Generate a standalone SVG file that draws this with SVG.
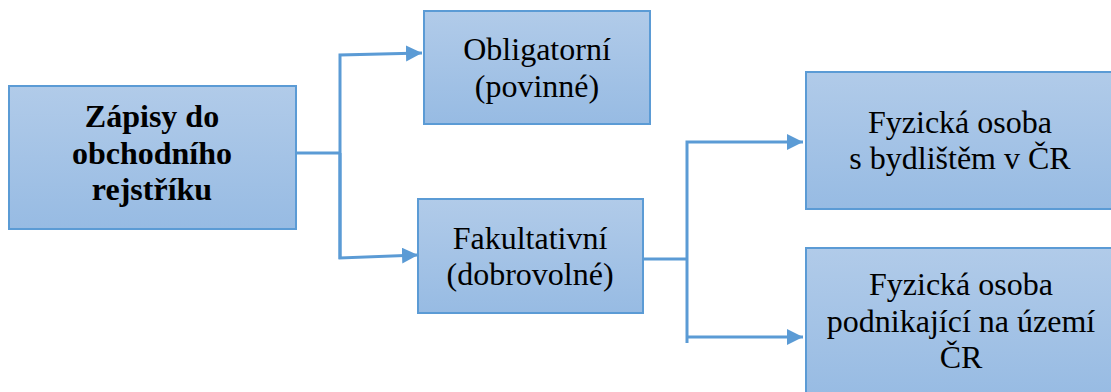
<svg xmlns="http://www.w3.org/2000/svg" width="1111" height="392" viewBox="0 0 1111 392">
<defs>
<linearGradient id="g" x1="0" y1="0" x2="0" y2="1">
<stop offset="0" stop-color="#b1cbe9"/>
<stop offset="1" stop-color="#97bbe3"/>
</linearGradient>
<marker id="arr" markerUnits="userSpaceOnUse" markerWidth="18" markerHeight="18" refX="16" refY="8" orient="auto">
<path d="M0,0 L16,8 L0,16 Z" fill="#5b9bd5"/>
</marker>
<style>
.box{fill:url(#g);stroke:#5b9bd5;stroke-width:2}
.c{fill:none;stroke:#5b9bd5;stroke-width:3}
</style>
</defs>
<g id="connectors">
<polyline class="c" points="296,153 340,153"/>
<polyline class="c" points="340,259 340,55 422,53" marker-end="url(#arr)"/>
<polyline class="c" points="340,153 340,258 418,255" marker-end="url(#arr)"/>
<polyline class="c" points="643,259 687,259"/>
<polyline class="c" points="687,259 687,142 803,142" marker-end="url(#arr)"/>
<polyline class="c" points="687,259 687,343"/>
<polyline class="c" points="687,337 803,337" marker-end="url(#arr)"/>
</g>
<g font-family="Liberation Serif, DejaVu Serif, Times New Roman, Times, serif" font-size="32px" fill="#000" text-anchor="middle">
<g id="n1">
<rect class="box" x="9" y="86" width="287" height="143"/>
<text font-weight="bold" x="152" y="127">Zápisy do</text>
<text font-weight="bold" x="152" y="164">obchodního</text>
<text font-weight="bold" x="152" y="200">rejstříku</text>
</g>
<g id="n2">
<rect class="box" x="424" y="11" width="226" height="113"/>
<text x="537" y="60">Obligatorní</text>
<text x="537" y="97">(povinné)</text>
</g>
<g id="n3">
<rect class="box" x="418" y="199" width="225" height="114"/>
<text x="530" y="249">Fakultativní</text>
<text x="530" y="285">(dobrovolné)</text>
</g>
<g id="n4">
<rect class="box" x="806" y="72" width="307" height="137"/>
<text x="960" y="133">Fyzická osoba</text>
<text x="960" y="169">s bydlištěm v ČR</text>
</g>
<g id="n5">
<rect class="box" x="806" y="248" width="307" height="150"/>
<text x="961" y="295">Fyzická osoba</text>
<text x="961" y="332">podnikající na území</text>
<text x="961" y="368">ČR</text>
</g>
</g>
</svg>
